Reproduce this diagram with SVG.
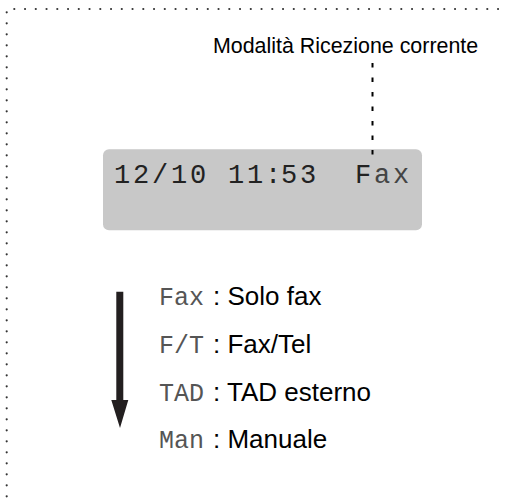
<svg xmlns="http://www.w3.org/2000/svg" width="508" height="499" viewBox="0 0 508 499">
<style>
.dots{fill:none;stroke:#333;stroke-width:2.2;stroke-linecap:round}
.sans{font-family:"Liberation Sans",Arial,sans-serif;fill:#000}
.mono{font-family:"Liberation Mono","Courier New",monospace;fill:#555}
.lcd{font-family:"Liberation Mono","Courier New",monospace;fill:#222;font-size:27px}
</style>
<rect width="508" height="499" fill="#fff"/>
<g id="frame">
<line class="dots" x1="14.3" y1="9" x2="508" y2="9" stroke-dasharray="0 10.75"/>
<line class="dots" x1="6.7" y1="12.3" x2="6.7" y2="499" stroke-dasharray="0 11"/>
</g>
<g id="label">
<text class="sans" x="213" y="53" font-size="21.4">Modalità Ricezione corrente</text>
</g>
<g id="lcd">
<rect x="103" y="149.3" width="319" height="81" rx="6" fill="#c8c8c8"/>
<text class="lcd" xml:space="preserve" y="183" x="114 133 152 171 190 209 228 247 265 281 300 319 337 355 374 393">12/10 11:53  F<tspan fill="#444">ax</tspan></text>
</g>
<g id="connectors">
<line x1="372.5" y1="63" x2="372.5" y2="156" stroke="#000" stroke-width="2" stroke-dasharray="4.5 10"/>
<path d="M116.3 291.7 H123.3 V400 H128.3 L120 428 L111.3 400 H116.3 Z" fill="#231f20"/>
</g>
<g id="mode-fax">
<text class="mono" x="159" y="305" font-size="25">Fax</text>
<text class="sans" x="213" y="305" font-size="26">: Solo fax</text>
</g>
<g id="mode-ft">
<text class="mono" x="159" y="352.5" font-size="25">F/T</text>
<text class="sans" x="213" y="352.5" font-size="26">: Fax/Tel</text>
</g>
<g id="mode-tad">
<text class="mono" x="159" y="400.5" font-size="25">TAD</text>
<text class="sans" x="213" y="400.5" font-size="26">: TAD esterno</text>
</g>
<g id="mode-man">
<text class="mono" x="159" y="448" font-size="25">Man</text>
<text class="sans" x="213" y="448" font-size="26">: Manuale</text>
</g>
</svg>
